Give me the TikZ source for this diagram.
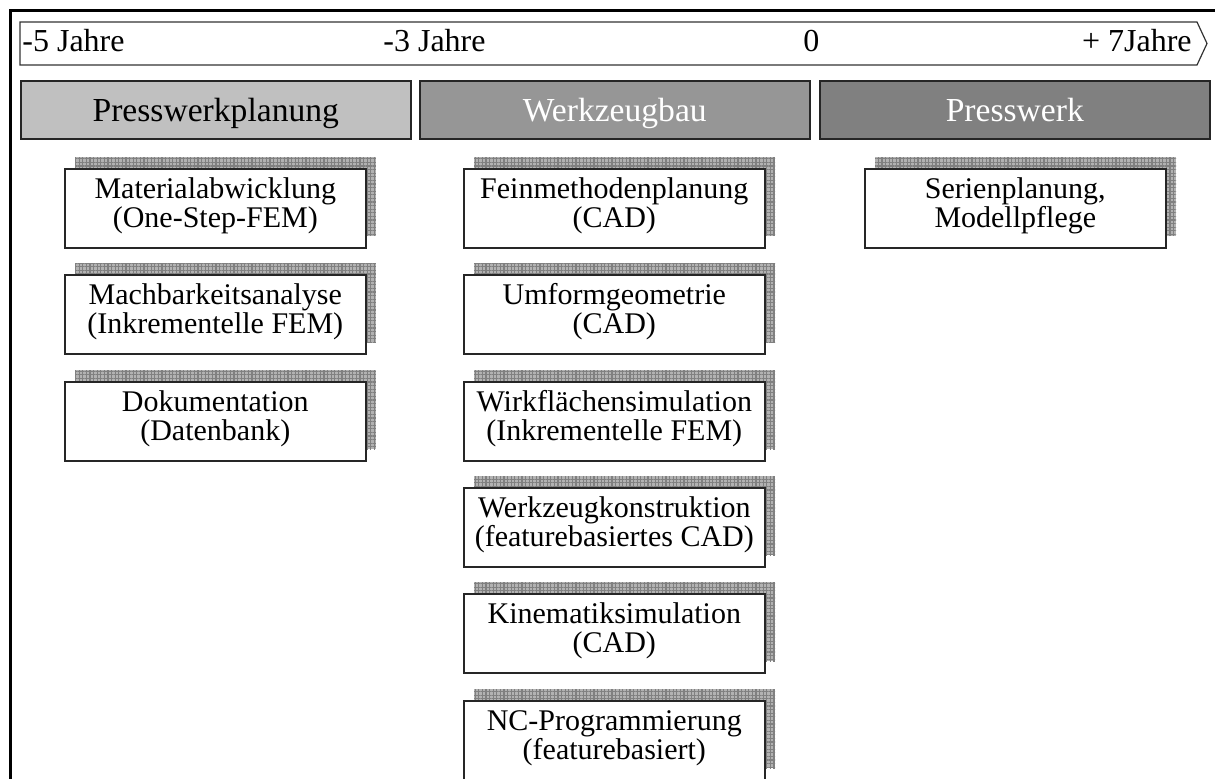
\documentclass[tikz,border=0pt]{standalone}
\usepackage{fontspec}
\setmainfont{Liberation Serif}
\usetikzlibrary{patterns.meta}

\definecolor{hdrA}{HTML}{C0C0C0}
\definecolor{hdrB}{HTML}{969696}
\definecolor{hdrC}{HTML}{808080}
\definecolor{shadebase}{HTML}{B2B2B2}
\definecolor{shadeline}{HTML}{808080}

% one task box with its chequered offset shadow (top-left corner at #2,#3);
% the invisible rules fix the height of the first and the depth of the last line
\newcommand\taskbox[4]{%
  \fill[gridshade] (#2+11,#3-11) rectangle ++(301,79);
  \node[task, anchor=north west] (#1) at (#2,#3)
    {\rule{0pt}{11pt}#4\rule[-6pt]{0pt}{0pt}};
}

\begin{document}
\begin{tikzpicture}[x=0.5pt,y=-0.5pt,
  frameline/.style={line width=1.5pt, line cap=rect},
  timeline/.style={draw=black!80, line width=0.6pt, fill=white},
  yearlabel/.style={inner sep=0pt, anchor=base west, font=\fontsize{16}{19}\selectfont},
  header/.style={draw=black!85, line width=0.8pt, minimum width=195pt, minimum height=29pt,
    inner sep=0pt, anchor=north west, text height=14pt, text depth=2pt,
    font=\fontsize{16.8}{20}\selectfont},
  task/.style={draw=black!85, line width=0.8pt, fill=white, minimum width=150.5pt,
    minimum height=39.5pt, inner sep=0pt, align=center,
    font={\fontsize{15}{14.5}\selectfont\lineskiplimit=-6pt}},
  gridshade/.style={fill=shadebase,
    postaction={pattern={Lines[angle=0,distance=1.8pt,line width=0.55pt]}, pattern color=shadeline},
    postaction={pattern={Lines[angle=90,distance=1.8pt,line width=0.55pt]}, pattern color=shadeline}}
]
\useasboundingbox (0,0) rectangle (1215,778);

% outer frame (left and top edges)
\draw[frameline] (10,790) -- (10,10) -- (1230,10);

% time axis
\draw[timeline] (20,22) -- (1197,22) -- (1207,43.5) -- (1197,65) -- (20,65) -- cycle;
\node[yearlabel] (y5) at (22,51) {-5 Jahre};
\node[yearlabel] (y3) at (383,51) {-3 Jahre};
\node[yearlabel] (y0) at (803,51) {0};
\node[yearlabel, anchor=base east] (y7) at (1192,51) {+ 7Jahre};

% phase headers
\node[header, fill=hdrA, text=black] (h1) at (20,80) {Presswerkplanung};
\node[header, fill=hdrB, text=white] (h2) at (419,80) {Werkzeugbau};
\node[header, fill=hdrC, text=white] (h3) at (819,80) {Presswerk};

% Presswerkplanung tasks
\taskbox{a1}{64}{168}{Materialabwicklung\\(One-Step-FEM)}
\taskbox{a2}{64}{274}{Machbarkeitsanalyse\\(Inkrementelle FEM)}
\taskbox{a3}{64}{381}{Dokumentation\\(Datenbank)}

% Werkzeugbau tasks
\taskbox{b1}{463}{168}{Feinmethodenplanung\\(CAD)}
\taskbox{b2}{463}{274}{Umformgeometrie\\(CAD)}
\taskbox{b3}{463}{381}{Wirkflächensimulation\\(Inkrementelle FEM)}
\taskbox{b4}{463}{487}{Werkzeugkonstruktion\\(featurebasiertes CAD)}
\taskbox{b5}{463}{593}{Kinematiksimulation\\(CAD)}
\taskbox{b6}{463}{700}{NC-Programmierung\\(featurebasiert)}

% Presswerk tasks
\taskbox{c1}{864}{168}{Serienplanung,\\Modellpflege}

\end{tikzpicture}
\end{document}
